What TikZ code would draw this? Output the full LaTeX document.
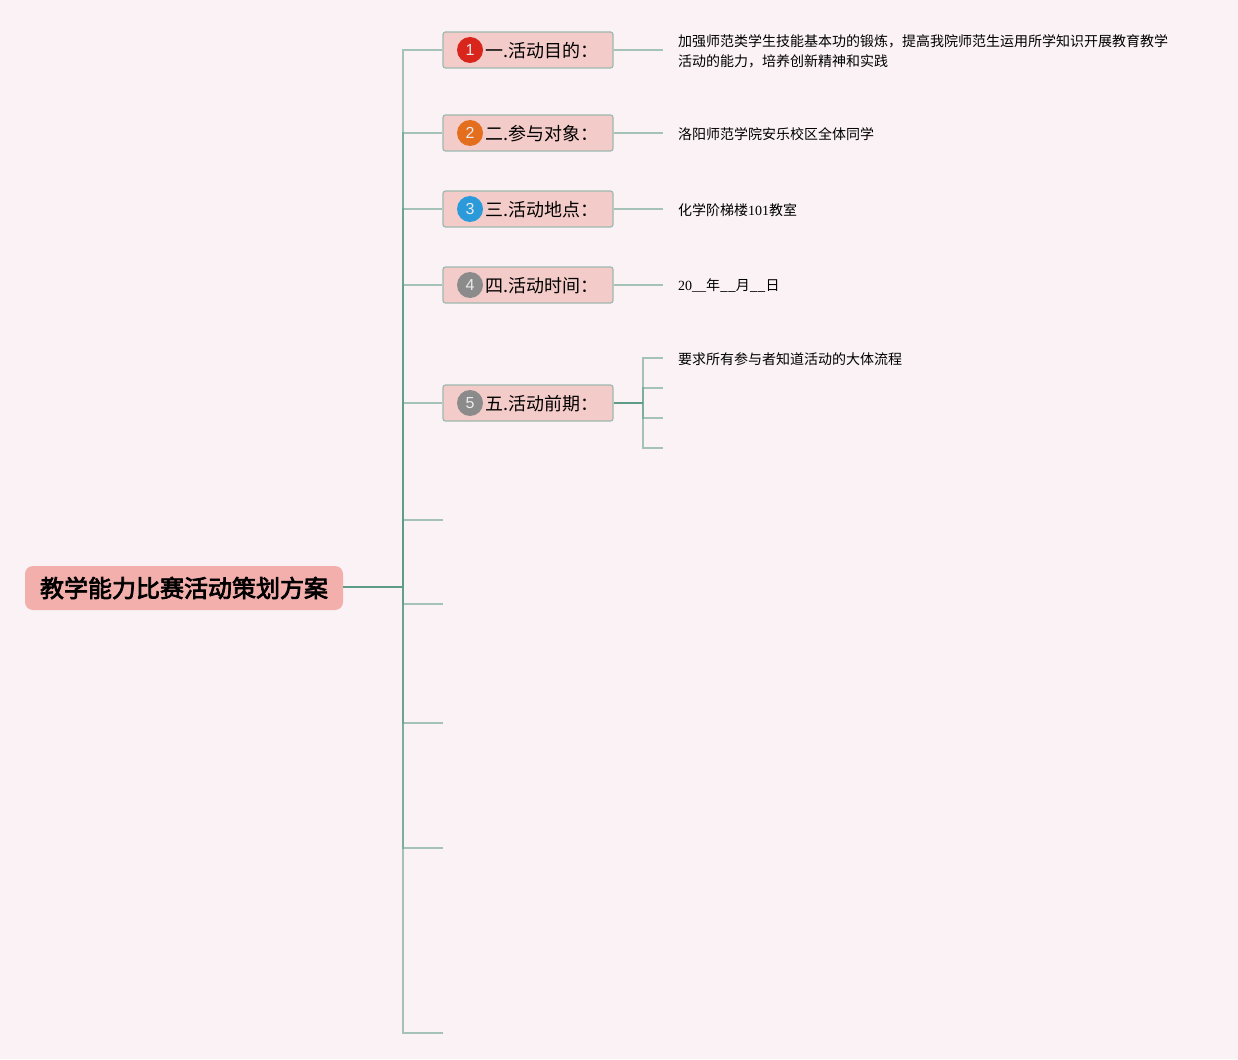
\documentclass[tikz,border=0pt]{standalone}
\usepackage{fontspec}
\setmainfont{Liberation Serif}
\newfontfamily\cjk{Noto Sans CJK SC}
\newfontfamily\cjkb{Noto Sans CJK SC}[FakeBold=3]
\newfontfamily\numfont{Liberation Sans}
\definecolor{bgc}{HTML}{FAF2F5}
\definecolor{rootfill}{HTML}{F2AFAC}
\definecolor{boxfill}{HTML}{F3CBC8}
\definecolor{boxline}{HTML}{9DB9AE}
\definecolor{linedark}{HTML}{5E9C87}
\definecolor{ic1}{HTML}{D9261C}
\definecolor{ic2}{HTML}{E36E1E}
\definecolor{ic3}{HTML}{2A9ADB}
\definecolor{ic4}{HTML}{8B8B8B}
\begin{document}
\begin{tikzpicture}[x=1pt,y=-1pt,
  rootbox/.style={fill=rootfill,rounded corners=8pt,minimum width=318pt,minimum height=44pt,inner sep=0pt,font=\cjkb\fontsize{24}{28}\selectfont},
  topicbox/.style={fill=boxfill,draw=boxline,line width=1.2pt,rounded corners=2.5pt,minimum width=170pt,minimum height=36pt,inner sep=0pt},
  icon/.style={circle,minimum size=26pt,inner sep=0pt,text=white!92!black,font=\numfont\fontsize{16}{18}\selectfont},
  topiclabel/.style={anchor=west,inner sep=0pt,font=\cjk\fontsize{18}{22}\selectfont},
  leaf/.style={anchor=west,inner sep=0pt,align=left,font=\cjk\fontsize{14}{20}\selectfont},
  branch/.style={draw=linedark,draw opacity=0.55,line width=1.7pt},
  strong/.style={draw=linedark,line width=1.7pt}]
\fill[bgc] (0,0) rectangle (1238,1059);
\useasboundingbox (0,0) rectangle (1238,1059);

% root
\node[rootbox] (root) at (184,588) {教学能力比赛活动策划方案};
\coordinate (j) at (403,587);
\draw[strong] (root.east |- j) -- (j);

% topic boxes
\node[topicbox] (b1) at (528,50) {};
\node[topicbox] (b2) at (528,133) {};
\node[topicbox] (b3) at (528,209) {};
\node[topicbox] (b4) at (528,285) {};
\node[topicbox] (b5) at (528,403) {};

\node[icon,fill=ic1] (c1) at (470,50) {1};
\node[icon,fill=ic2] (c2) at (470,133) {2};
\node[icon,fill=ic3] (c3) at (470,209) {3};
\node[icon,fill=ic4] (c4) at (470,285) {4};
\node[icon,fill=ic4] (c5) at (470,403) {5};

\node[topiclabel] (l1) at (485,51) {一.活动目的：};
\node[topiclabel] (l2) at (485,134) {二.参与对象：};
\node[topiclabel] (l3) at (485,210) {三.活动地点：};
\node[topiclabel] (l4) at (485,286) {四.活动时间：};
\node[topiclabel] (l5) at (485,404) {五.活动前期：};

% empty stubs
\coordinate (e1) at (443,520);
\coordinate (e2) at (443,604);
\coordinate (e3) at (443,723);
\coordinate (e4) at (443,848);
\coordinate (e5) at (443,1033);

% trunk branches
\foreach \t in {b1,b2,b3,b4,b5}{\draw[branch] (j) |- (\t.west);}
\foreach \t in {e1,e2,e3,e4,e5}{\draw[branch] (j) |- (\t);}

% leaves
\node[leaf] (d1) at (678,51) {加强师范类学生技能基本功的锻炼，提高我院师范生运用所学知识开展教育教学\\活动的能力，培养创新精神和实践};
\node[leaf] (d2) at (678,134) {洛阳师范学院安乐校区全体同学};
\node[leaf] (d3) at (678,210) {化学阶梯楼{\rmfamily\fontsize{14}{20}\selectfont 101}教室};
\node[leaf] (d4) at (678,286) {{\rmfamily\fontsize{14}{20}\selectfont 20\_\_}年\_\_月\_\_日};
\node[leaf] (d5) at (678,359) {要求所有参与者知道活动的大体流程};

\draw[branch] (b1.east) -- (663,50);
\draw[branch] (b2.east) -- (663,133);
\draw[branch] (b3.east) -- (663,209);
\draw[branch] (b4.east) -- (663,285);

% sub-branches of topic 5
\coordinate (k) at (643,403);
\draw[strong] (b5.east) -- (k);
\coordinate (s1) at (663,358);
\coordinate (s2) at (663,388);
\coordinate (s3) at (663,418);
\coordinate (s4) at (663,448);
\foreach \t in {s1,s2,s3,s4}{\draw[branch] (k) |- (\t);}
\end{tikzpicture}
\end{document}
